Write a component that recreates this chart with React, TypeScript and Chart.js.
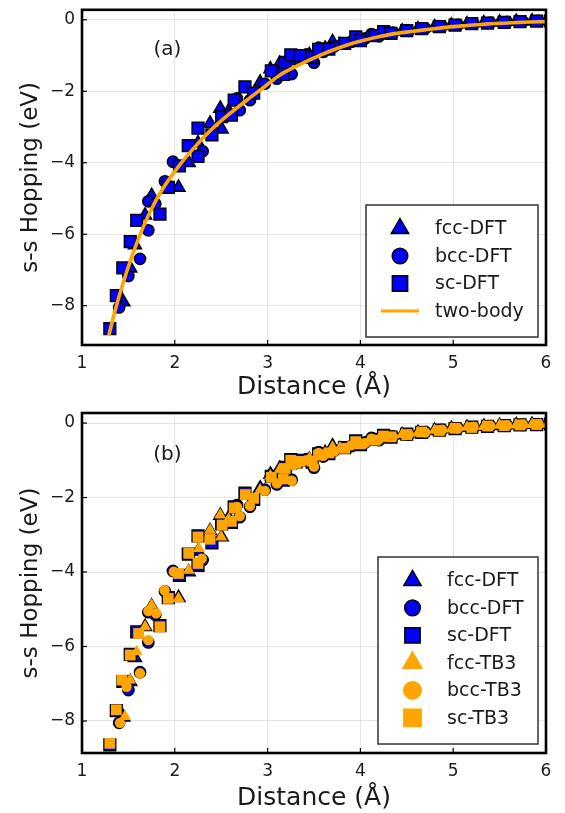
import React, { useEffect, useRef } from "react";
import { Chart, registerables } from "chart.js";
Chart.register(...registerables);

const FONT = "'DejaVu Sans', sans-serif";
const BLUE = "#0000ff";
const ORANGE = "#ffa500";
const TEXT = "#1a1a1a";

const xTicks = [1, 2, 3, 4, 5, 6];
const yTicks = [-8, -6, -4, -2, 0];

// ---- DFT data (shared by both panels) ----
const fccDftX = [1.445, 1.52, 1.57, 1.68, 1.75, 2.04, 2.15, 2.25, 2.38, 2.49, 2.505, 2.58, 2.92, 3.03, 3.13, 3.3, 3.45, 3.62, 3.7, 3.78, 3.95, 4.1, 4.28, 4.45, 4.62, 4.8, 4.98, 5.15, 5.33, 5.5, 5.68, 5.85, 6.02];
const fccDftY = [-7.9, -6.95, -6.3, -5.47, -4.92, -4.69, -4.0, -3.45, -2.9, -2.48, -3.06, -2.55, -1.75, -1.38, -1.22, -1.1, -0.98, -0.8, -0.62, -0.7, -0.56, -0.47, -0.4, -0.32, -0.26, -0.2, -0.15, -0.12, -0.09, -0.07, -0.05, -0.04, -0.03];

const bccDftX = [1.4, 1.5, 1.625, 1.715, 1.715, 1.79, 1.894, 1.98, 2.3, 2.67, 2.7, 2.81, 2.97, 3.1, 3.26, 3.28, 3.42, 3.5, 3.55, 3.6, 3.72, 3.9, 4.05, 4.12, 4.2, 4.35, 4.52, 4.7, 4.88, 5.05, 5.22, 5.4, 5.58, 5.75, 5.92];
const bccDftY = [-8.05, -7.17, -6.69, -5.89, -5.08, -5.15, -4.52, -3.97, -3.68, -2.2, -2.53, -2.25, -1.79, -1.65, -1.52, -1.1, -0.97, -1.2, -0.78, -0.9, -0.74, -0.62, -0.52, -0.4, -0.46, -0.36, -0.31, -0.24, -0.18, -0.14, -0.11, -0.08, -0.06, -0.05, -0.03];

const scDftX = [1.3, 1.37, 1.44, 1.52, 1.59, 1.84, 1.93, 2.05, 2.145, 2.25, 2.25, 2.4, 2.505, 2.61, 2.64, 2.756, 2.85, 3.04, 3.17, 3.19, 3.25, 3.35, 3.48, 3.55, 3.66, 3.83, 3.95, 4.0, 4.16, 4.25, 4.33, 4.5, 4.66, 4.85, 5.02, 5.2, 5.37, 5.55, 5.72, 5.9, 6.05];
const scDftY = [-8.64, -7.72, -6.94, -6.21, -5.61, -5.44, -4.69, -4.09, -3.52, -3.82, -3.03, -3.22, -2.71, -2.67, -2.25, -1.88, -2.05, -1.43, -1.53, -1.19, -0.98, -1.0, -1.05, -0.83, -0.82, -0.66, -0.48, -0.58, -0.44, -0.33, -0.38, -0.3, -0.25, -0.19, -0.15, -0.11, -0.09, -0.07, -0.05, -0.04, -0.03];

// ---- TB3 data (panel b) ----
const fccTbX = [1.463, 1.517, 1.59, 1.68, 1.75, 2.04, 2.15, 2.26, 2.38, 2.49, 2.5, 2.58, 2.92, 3.03, 3.13, 3.3, 3.45, 3.62, 3.7, 3.78, 3.95, 4.1, 4.28, 4.45, 4.62, 4.8, 4.98, 5.15, 5.33, 5.5, 5.68, 5.85, 6.02];
const fccTbY = [-7.88, -6.9, -6.14, -5.47, -4.89, -4.71, -3.95, -3.37, -2.88, -2.47, -3.06, -2.58, -1.8, -1.42, -1.25, -1.12, -0.95, -0.83, -0.65, -0.67, -0.58, -0.46, -0.41, -0.31, -0.27, -0.19, -0.16, -0.11, -0.09, -0.06, -0.05, -0.04, -0.03];

const bccTbX = [1.41, 1.48, 1.625, 1.715, 1.715, 1.8, 1.89, 1.99, 2.29, 2.67, 2.7, 2.81, 2.97, 3.1, 3.26, 3.28, 3.42, 3.5, 3.55, 3.6, 3.72, 3.9, 4.05, 4.12, 4.2, 4.35, 4.52, 4.7, 4.88, 5.05, 5.22, 5.4, 5.58, 5.75, 5.92];
const bccTbY = [-8.05, -7.08, -6.72, -5.83, -5.05, -5.11, -4.49, -3.99, -3.64, -2.25, -2.5, -2.22, -1.82, -1.62, -1.55, -1.13, -1.0, -1.17, -0.8, -0.88, -0.76, -0.6, -0.54, -0.42, -0.44, -0.37, -0.3, -0.25, -0.18, -0.14, -0.1, -0.08, -0.06, -0.04, -0.03];

const scTbX = [1.3, 1.37, 1.43, 1.52, 1.61, 1.84, 1.93, 2.04, 2.15, 2.25, 2.25, 2.38, 2.51, 2.61, 2.64, 2.76, 2.85, 3.04, 3.17, 3.19, 3.25, 3.35, 3.48, 3.55, 3.66, 3.83, 3.95, 4.0, 4.16, 4.25, 4.33, 4.5, 4.66, 4.85, 5.02, 5.2, 5.37, 5.55, 5.72, 5.9, 6.05];
const scTbY = [-8.6, -7.7, -6.9, -6.23, -5.65, -5.47, -4.71, -4.04, -3.5, -3.77, -3.06, -3.12, -2.74, -2.64, -2.28, -1.92, -2.02, -1.46, -1.5, -1.22, -1.0, -1.03, -1.02, -0.86, -0.8, -0.68, -0.5, -0.56, -0.46, -0.35, -0.37, -0.31, -0.24, -0.2, -0.14, -0.12, -0.08, -0.07, -0.05, -0.04, -0.03];

// ---- two-body fit curve (panel a) ----
const twoBodyX = [1.29, 1.35, 1.445, 1.59, 1.733, 1.877, 2.056, 2.236, 2.415, 2.595, 2.775, 2.954, 3.13, 3.31, 3.49, 3.67, 3.85, 4.03, 4.21, 4.39, 4.57, 4.79, 5.0, 5.15, 5.35, 5.5, 5.75, 6.0];
const twoBodyY = [-8.83, -8.2, -7.35, -6.25, -5.38, -4.7, -4.05, -3.5, -3.02, -2.62, -2.25, -1.9, -1.55, -1.3, -1.08, -0.88, -0.71, -0.58, -0.47, -0.38, -0.32, -0.25, -0.19, -0.16, -0.12, -0.1, -0.07, -0.05];

const zip = (xs: number[], ys: number[]) => xs.map((x, i) => ({ x, y: ys[i] }));

function drawMarker(ctx: CanvasRenderingContext2D, style: string, x: number, y: number, r: number, fill: string, lw: number) {
  ctx.beginPath();
  if (style === "circle") {
    ctx.arc(x, y, r, 0, Math.PI * 2);
  } else if (style === "rect") {
    const s = r * Math.SQRT1_2;
    ctx.rect(x - s, y - s, 2 * s, 2 * s);
  } else {
    ctx.moveTo(x, y - r);
    ctx.lineTo(x + r * 0.866, y + r * 0.5);
    ctx.lineTo(x - r * 0.866, y + r * 0.5);
    ctx.closePath();
  }
  ctx.fillStyle = fill;
  ctx.fill();
  if (lw > 0) {
    ctx.strokeStyle = "#000";
    ctx.lineWidth = lw;
    ctx.stroke();
  }
}

const framePlugin = {
  id: "frameBox",
  afterDatasetsDraw(chart: any) {
    const { ctx, chartArea: a, scales } = chart;
    ctx.save();
    ctx.strokeStyle = "#000";
    ctx.lineWidth = 1.2;
    scales.x.ticks.forEach((t: any) => {
      const px = scales.x.getPixelForValue(t.value);
      ctx.beginPath();
      ctx.moveTo(px, a.bottom);
      ctx.lineTo(px, a.bottom - 5);
      ctx.stroke();
    });
    scales.y.ticks.forEach((t: any) => {
      const py = scales.y.getPixelForValue(t.value);
      ctx.beginPath();
      ctx.moveTo(a.left, py);
      ctx.lineTo(a.left + 5, py);
      ctx.stroke();
    });
    ctx.lineWidth = 2.6;
    ctx.strokeRect(a.left, a.top, a.right - a.left, a.bottom - a.top);
    ctx.restore();
  },
};

const boxLegendPlugin = {
  id: "boxLegend",
  afterDraw(chart: any, _args: any, opts: any) {
    if (!opts || !opts.entries) return;
    const { ctx, chartArea: a } = chart;
    const left = a.right - opts.marginRight - opts.width;
    const top = a.bottom - opts.marginBottom - opts.height;
    ctx.save();
    ctx.fillStyle = "#fff";
    ctx.fillRect(left, top, opts.width, opts.height);
    ctx.strokeStyle = "#333";
    ctx.lineWidth = 1.5;
    ctx.strokeRect(left, top, opts.width, opts.height);
    opts.entries.forEach((e: any, i: number) => {
      const cy = top + opts.firstRow + i * opts.rowGap;
      const mx = left + opts.markerX;
      if (e.kind === "line") {
        ctx.strokeStyle = e.color;
        ctx.lineWidth = 3;
        ctx.beginPath();
        ctx.moveTo(mx - 19, cy);
        ctx.lineTo(mx + 19, cy);
        ctx.stroke();
      } else {
        drawMarker(ctx, e.style, mx, cy, e.r, e.color, e.lw);
      }
      ctx.fillStyle = TEXT;
      ctx.font = `19px ${FONT}`;
      ctx.textAlign = "left";
      ctx.textBaseline = "middle";
      ctx.fillText(e.label, left + opts.textX, cy + 1);
    });
    ctx.restore();
  },
};

const panelLabelPlugin = {
  id: "panelLabel",
  afterDraw(chart: any, _args: any, opts: any) {
    if (!opts || !opts.text) return;
    const { ctx, scales } = chart;
    ctx.save();
    ctx.fillStyle = TEXT;
    ctx.font = `20px ${FONT}`;
    ctx.textAlign = "center";
    ctx.textBaseline = "middle";
    ctx.fillText(opts.text, scales.x.getPixelForValue(opts.x), scales.y.getPixelForValue(opts.y));
    ctx.restore();
  },
};

function axes(yMin: number, yMax: number, xHeight: number, xTitlePad: number) {
  const grid = { color: "rgba(0,0,0,0.1)", lineWidth: 1, drawTicks: false };
  return {
    x: {
      type: "linear",
      min: 1,
      max: 6,
      afterBuildTicks: (s: any) => { s.ticks = xTicks.map((v) => ({ value: v })); },
      ticks: { color: TEXT, font: { family: FONT, size: 17 }, padding: 8, maxRotation: 0, autoSkip: false },
      grid,
      border: { display: false },
      title: { display: true, text: "Distance (Å)", color: TEXT, font: { family: FONT, size: 25, lineHeight: 1 }, padding: { top: 0, bottom: xTitlePad } },
      afterFit: (s: any) => { s.height = xHeight; s.paddingLeft = 0; s.paddingRight = 0; },
    },
    y: {
      type: "linear",
      min: yMin,
      max: yMax,
      afterBuildTicks: (s: any) => { s.ticks = yTicks.map((v) => ({ value: v })); },
      ticks: {
        color: TEXT,
        font: { family: FONT, size: 17 },
        padding: 7,
        callback: (v: any) => (v < 0 ? "\u2212" + Math.abs(v) : String(v)),
      },
      grid,
      border: { display: false },
      title: { display: true, text: "s-s Hopping (eV)", color: TEXT, font: { family: FONT, size: 23, lineHeight: 1 }, padding: { top: 20, bottom: 0 } },
      afterFit: (s: any) => { s.width = 82; s.paddingTop = 0; s.paddingBottom = 0; },
    },
  };
}

function scatterSet(label: string, xs: number[], ys: number[], style: string, r: number, color: string, lw: number, order: number) {
  return {
    label,
    data: zip(xs, ys),
    pointStyle: style,
    pointRadius: r,
    backgroundColor: color,
    borderColor: "#000",
    borderWidth: lw,
    showLine: false,
    order,
    clip: 0,
  };
}

function configA() {
  return {
    type: "scatter",
    data: {
      datasets: [
        scatterSet("fcc-DFT", fccDftX, fccDftY, "triangle", 7.5, BLUE, 1.5, 3),
        scatterSet("bcc-DFT", bccDftX, bccDftY, "circle", 5.6, BLUE, 1.5, 2),
        scatterSet("sc-DFT", scDftX, scDftY, "rect", 8.3, BLUE, 1.5, 1),
        {
          label: "two-body",
          type: "line",
          data: zip(twoBodyX, twoBodyY),
          borderColor: ORANGE,
          borderWidth: 3.6,
          pointRadius: 0,
          fill: false,
          cubicInterpolationMode: "monotone",
          order: 0,
          clip: 0,
        },
      ],
    },
    options: {
      animation: false,
      responsive: false,
      devicePixelRatio: 1,
      layout: { padding: { left: 0, right: 19, top: 5, bottom: 0 } },
      scales: axes(-9.1, 0.28, 55, 0),
      plugins: {
        legend: { display: false },
        tooltip: { enabled: false },
        panelLabel: { text: "(a)", x: 1.92, y: -0.85 },
        boxLegend: {
          width: 172, height: 132, marginRight: 8, marginBottom: 8,
          markerX: 34, textX: 69, firstRow: 23.5, rowGap: 27.5,
          entries: [
            { label: "fcc-DFT", style: "triangle", r: 10, color: BLUE, lw: 1.5 },
            { label: "bcc-DFT", style: "circle", r: 7.8, color: BLUE, lw: 1.5 },
            { label: "sc-DFT", style: "rect", r: 10.8, color: BLUE, lw: 1.5 },
            { label: "two-body", kind: "line", color: ORANGE },
          ],
        },
      },
    },
    plugins: [framePlugin, boxLegendPlugin, panelLabelPlugin],
  };
}

function configB() {
  return {
    type: "scatter",
    data: {
      datasets: [
        scatterSet("fcc-DFT", fccDftX, fccDftY, "triangle", 7.5, BLUE, 1.5, 6),
        scatterSet("bcc-DFT", bccDftX, bccDftY, "circle", 5.6, BLUE, 1.5, 5),
        scatterSet("sc-DFT", scDftX, scDftY, "rect", 8.3, BLUE, 1.5, 4),
        scatterSet("fcc-TB3", fccTbX, fccTbY, "triangle", 7, ORANGE, 0, 3),
        scatterSet("bcc-TB3", bccTbX, bccTbY, "circle", 5.2, ORANGE, 0, 2),
        scatterSet("sc-TB3", scTbX, scTbY, "rect", 7.6, ORANGE, 0, 1),
      ],
    },
    options: {
      animation: false,
      responsive: false,
      devicePixelRatio: 1,
      layout: { padding: { left: 0, right: 19, top: 13, bottom: 0 } },
      scales: axes(-8.86, 0.27, 60, 2.5),
      plugins: {
        legend: { display: false },
        tooltip: { enabled: false },
        panelLabel: { text: "(b)", x: 1.92, y: -0.84 },
        boxLegend: {
          width: 160, height: 187, marginRight: 8, marginBottom: 9,
          markerX: 34.5, textX: 69, firstRow: 23.4, rowGap: 27.5,
          entries: [
            { label: "fcc-DFT", style: "triangle", r: 10, color: BLUE, lw: 1.5 },
            { label: "bcc-DFT", style: "circle", r: 7.8, color: BLUE, lw: 1.5 },
            { label: "sc-DFT", style: "rect", r: 10.8, color: BLUE, lw: 1.5 },
            { label: "fcc-TB3", style: "triangle", r: 12.5, color: ORANGE, lw: 0 },
            { label: "bcc-TB3", style: "circle", r: 9.5, color: ORANGE, lw: 0 },
            { label: "sc-TB3", style: "rect", r: 13.3, color: ORANGE, lw: 0 },
          ],
        },
      },
    },
    plugins: [framePlugin, boxLegendPlugin, panelLabelPlugin],
  };
}

function Panel({ top, height, make }: { top: number; height: number; make: () => any }) {
  const ref = useRef<HTMLCanvasElement | null>(null);
  useEffect(() => {
    if (!ref.current) return;
    const chart = new Chart(ref.current, make());
    return () => chart.destroy();
  }, []);
  return (
    <canvas
      ref={ref}
      width={565}
      height={height}
      style={{ position: "absolute", left: 0, top, width: 565, height }}
    />
  );
}

export default function App() {
  return (
    <div style={{ position: "absolute", left: 0, top: 0, width: 565, height: 813, background: "#fff" }}>
      <Panel top={0} height={400} make={configA} />
      <Panel top={400} height={413} make={configB} />
    </div>
  );
}
